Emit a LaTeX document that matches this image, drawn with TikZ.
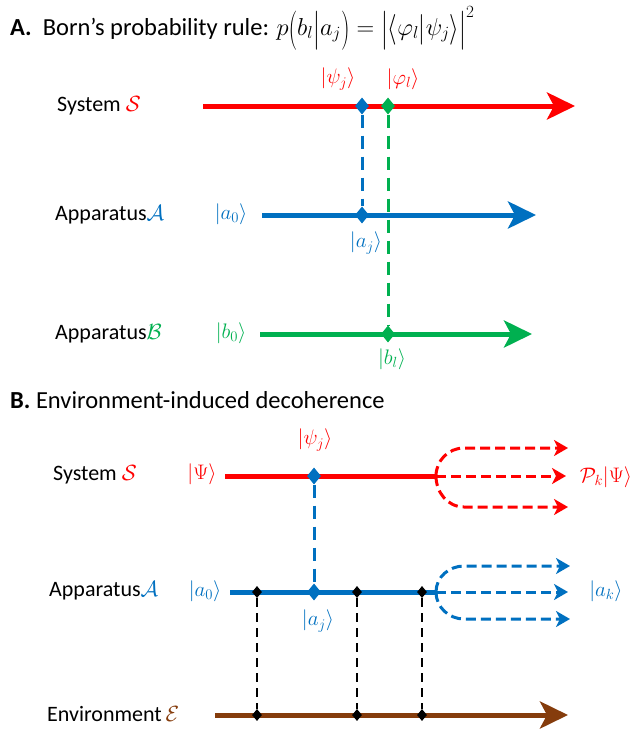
\RequirePackage{fix-cm}
\documentclass[tikz,border=0pt]{standalone}
\usepackage{fontspec}
\setmainfont{Carlito}
\usetikzlibrary{arrows.meta,shapes.geometric}
\definecolor{cred}{RGB}{255,0,0}
\definecolor{cblue}{RGB}{0,112,192}
\definecolor{cgreen}{RGB}{0,176,80}
\definecolor{cbrown}{RGB}{133,60,12}
\newcommand{\tdel}[1]{\mathord{\raisebox{-0.42ex}{\scalebox{1}[1.6]{$#1$}}}}
\newcommand{\mdel}[1]{\mathord{\raisebox{-0.18ex}{\scalebox{1}[1.25]{$#1$}}}}
\begin{document}
\begin{tikzpicture}[x=1pt,y=-1pt,
  main/.style={line width=5pt,-{Stealth[length=28pt,width=27pt,inset=7pt]}},
  plain/.style={line width=5pt},
  branch/.style={line width=3pt,dash pattern=on 10pt off 5pt,-{Stealth[length=14pt,width=16pt,inset=4pt]}},
  vdash/.style={line width=3pt,dash pattern=on 13pt off 8pt},
  bdash/.style={line width=2pt,dash pattern=on 9pt off 6pt},
  dmd/.style={diamond,minimum width=14pt,minimum height=17pt,inner sep=0pt},
  sdmd/.style={diamond,fill=black,minimum width=10pt,minimum height=12pt,inner sep=0pt},
  lab/.style={font=\fontsize{22}{24}\selectfont,anchor=west,inner sep=0pt},
  ket/.style={font=\fontsize{21}{23}\selectfont,inner sep=0pt},
  ttl/.style={font=\fontsize{24.5}{27}\selectfont,anchor=west,inner sep=0pt}]
\useasboundingbox (0,0) rectangle (632,734);
% ---------- Part A ----------
\node[ttl] (tA) at (10,28) {\textbf{A.}\ \ Born's probability rule: $p\tdel{(}b_l\tdel{|}a_j\tdel{)}=\tdel{|}\mdel{\langle}\varphi_l\mdel{|}\psi_j\mdel{\rangle}\tdel{|}^{2}$};
\node[lab] (sysA) at (57,106) {System \textcolor{cred}{$\mathcal{S}$}};
\node[lab] (appA) at (55,215) {Apparatus\textcolor{cblue}{$\mathcal{A}$}};
\node[lab] (appB) at (55,334) {Apparatus\textcolor{cgreen}{$\mathcal{B}$}};
\coordinate (sA0) at (203,106); \coordinate (sA1) at (575,106);
\coordinate (aA0) at (262,215); \coordinate (aA1) at (536,215);
\coordinate (bA0) at (260,334); \coordinate (bA1) at (532,334);
\draw[main,cred] (sA0) -- (sA1);
\draw[main,cblue] (aA0) -- (aA1);
\draw[main,cgreen] (bA0) -- (bA1);
\node[dmd,fill=cblue] (pj) at (362,106) {};
\node[dmd,fill=cgreen] (pl) at (388,106) {};
\node[dmd,fill=cblue] (aj) at (362,215) {};
\node[dmd,fill=cgreen] (bl) at (388,334) {};
\draw[vdash,cblue] (pj) -- (aj);
\draw[vdash,cgreen] (pl) -- (bl);
\node[ket,text=cred] (kpj) at (338,79) {$|\psi_j\rangle$};
\node[ket,text=cred] (kpl) at (403,79) {$|\varphi_l\rangle$};
\node[ket,text=cblue] (ka0) at (231,214) {$|a_0\rangle$};
\node[ket,text=cblue] (kaj) at (366,243) {$|a_j\rangle$};
\node[ket,text=cgreen] (kb0) at (231,333) {$|b_0\rangle$};
\node[ket,text=cgreen] (kbl) at (392,359) {$|b_l\rangle$};
% ---------- Part B ----------
\node[ttl] (tB) at (10,400) {\textbf{B.}\ Environment-induced decoherence};
\node[lab] (sysB) at (53,475) {System \textcolor{cred}{$\mathcal{S}$}};
\node[lab] (appC) at (49,591) {Apparatus\textcolor{cblue}{$\mathcal{A}$}};
\node[lab] (env) at (47,714) {Environment\textcolor{cbrown}{$\,\mathcal{E}$}};
\coordinate (s0) at (225,476); \coordinate (s1) at (436,476);
\coordinate (a0) at (230,592); \coordinate (a1) at (436,592);
\coordinate (e0) at (215,715); \coordinate (e1) at (568,715);
\draw[plain,cred] (s0) -- (s1);
\draw[plain,cblue] (a0) -- (a1);
\draw[main,cbrown] (e0) -- (e1);
% branches
\draw[branch,cred] (s1) to[out=90,in=180] (464,448) -- (568,448);
\draw[branch,cred] (s1) -- (566,476);
\draw[branch,cred] (s1) to[out=-90,in=180] (464,507) -- (568,507);
\draw[branch,cblue] (a1) to[out=90,in=180] (464,566) -- (570,566);
\draw[branch,cblue] (a1) -- (568,592);
\draw[branch,cblue] (a1) to[out=-90,in=180] (464,619) -- (570,619);
% diamonds
\node[dmd,fill=cblue] (bpj) at (314,476) {};
\node[dmd,fill=cblue] (baj) at (314,592) {};
\node[sdmd] (ad1) at (257,592) {};
\node[sdmd] (ad2) at (357,592) {};
\node[sdmd] (ad3) at (422,592) {};
\node[sdmd] (ed1) at (257,715) {};
\node[sdmd] (ed2) at (357,715) {};
\node[sdmd] (ed3) at (422,715) {};
\draw[vdash,cblue] (bpj) -- (baj);
\draw[bdash] (ad1) -- (ed1);
\draw[bdash] (ad2) -- (ed2);
\draw[bdash] (ad3) -- (ed3);
\node[ket,text=cred] (kPsi) at (202,474) {$|\Psi\rangle$};
\node[ket,text=cred] (kbpj) at (315,440) {$|\psi_j\rangle$};
\node[ket,text=cred] (kP) at (606,477) {$\mathcal{P}_k|\Psi\rangle$};
\node[ket,text=cblue] (kba0) at (205,591) {$|a_0\rangle$};
\node[ket,text=cblue] (kbaj) at (318,621) {$|a_j\rangle$};
\node[ket,text=cblue] (kak) at (606,591) {$|a_k\rangle$};
\end{tikzpicture}
\end{document}
